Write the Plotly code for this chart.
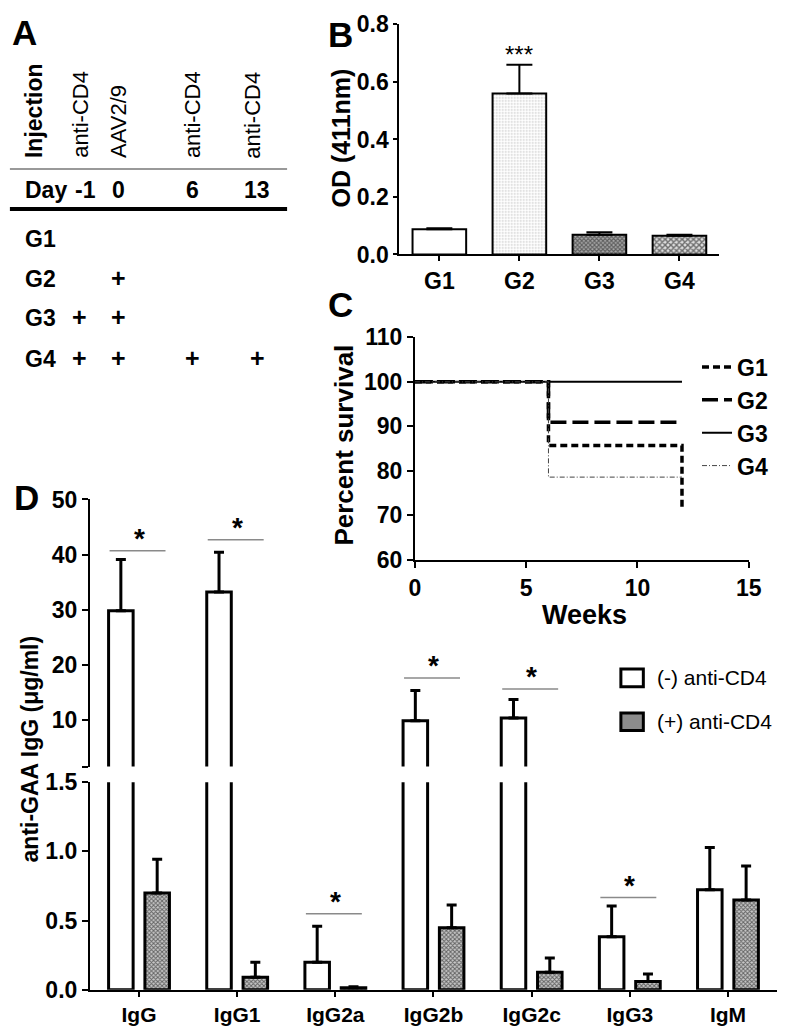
import plotly.graph_objects as go

W, H = 792, 1035
F = "Liberation Sans, Arial, Helvetica, sans-serif"

# ---------------- data ----------------
# Panel A: injection schedule
a_injections = ["anti-CD4", "AAV2/9", "anti-CD4", "anti-CD4"]
a_days = ["-1", "0", "6", "13"]
a_groups = ["G1", "G2", "G3", "G4"]
a_schedule = [[0, 0, 0, 0],
              [0, 1, 0, 0],
              [1, 1, 0, 0],
              [1, 1, 1, 1]]

# Panel B: OD (411nm)
b_groups = ["G1", "G2", "G3", "G4"]
b_od = [0.088, 0.560, 0.069, 0.065]
b_err = [0.003, 0.100, 0.008, 0.004]
b_sig = ["", "***", "", ""]

# Panel C: survival (weeks)
c_weeks = [0, 6, 12]
c_g1 = [100, 85.7, 71.4]
c_g2 = [100, 90.9, 90.9]
c_g3 = [100, 100, 100]
c_g4 = [100, 78.6, 78.6]

# Panel D: anti-GAA antibodies
d_classes = ["IgG", "IgG1", "IgG2a", "IgG2b", "IgG2c", "IgG3", "IgM"]
d_neg = [29.8, 33.2, 0.20, 9.8, 10.3, 0.383, 0.723]
d_neg_err = [9.3, 7.2, 0.26, 5.5, 3.4, 0.223, 0.305]
d_pos = [0.70, 0.09, 0.015, 0.449, 0.127, 0.061, 0.648]
d_pos_err = [0.244, 0.11, 0.007, 0.164, 0.103, 0.054, 0.246]
d_sig = [40.7, 42.7, 0.55, 17.6, 15.6, 0.667, None]
D_BREAK = 1.5


def X(px):
    return px / W


def Y(py):
    return 1 - py / H


fig = go.Figure()

# ---------------- Panel B ----------------
fig.add_trace(go.Bar(
    x=b_groups, y=b_od, width=0.67, xaxis="x", yaxis="y", showlegend=False,
    marker=dict(color="white", line=dict(color="black", width=2),
                pattern=dict(shape=["", ".", "x", "x"],
                             fgcolor=["#000", "#888", "#111", "#000"],
                             bgcolor=["white", "white", "#aaa", "#ddd"],
                             size=[4, 3, 3, 4], solidity=[0.3, 0.25, 0.6, 0.6])),
    error_y=dict(type="data", symmetric=False, array=b_err, arrayminus=[0] * 4,
                 color="black", thickness=2, width=13),
))
for g, v, e, s in zip(b_groups, b_od, b_err, b_sig):
    if s:
        fig.add_annotation(x=g, y=v + e, xref="x", yref="y", text=s, showarrow=False,
                           yanchor="middle", yshift=10,
                           font=dict(family=F, size=24, color="black"))

# ---------------- Panel C ----------------
c_styles = [
    ("G1", c_g1, dict(color="black", width=3.5, dash="7px,4px")),
    ("G2", c_g2, dict(color="black", width=3.5, dash="16px,6px")),
    ("G3", c_g3, dict(color="black", width=2)),
    ("G4", c_g4, dict(color="#444", width=1, dash="5px,2px,1px,2px")),
]
for name, yy, ln in c_styles:
    fig.add_trace(go.Scatter(x=c_weeks, y=yy, mode="lines", name=name, line_shape="hv",
                             line=ln, xaxis="x2", yaxis="y2", legend="legend"))

# ---------------- Panel D ----------------
for ax_x, ax_y in (("x3", "y3"), ("x4", "y4")):
    fig.add_trace(go.Bar(
        x=d_classes, y=d_neg, offset=-0.31, width=0.25, xaxis=ax_x, yaxis=ax_y,
        showlegend=False, name="(-) anti-CD4",
        marker=dict(color="white", line=dict(color="black", width=3)),
        error_y=dict(type="data", symmetric=False, array=d_neg_err,
                     arrayminus=[0] * len(d_neg), color="black", thickness=3, width=5),
    ))
    fig.add_trace(go.Bar(
        x=d_classes, y=d_pos, offset=0.06, width=0.25, xaxis=ax_x, yaxis=ax_y,
        showlegend=False, name="(+) anti-CD4",
        marker=dict(color="white", line=dict(color="black", width=3),
                    pattern=dict(shape="x", fgcolor="#000", bgcolor="#c8c8c8",
                                 size=3, solidity=0.55)),
        error_y=dict(type="data", symmetric=False, array=d_pos_err,
                     arrayminus=[0] * len(d_pos), color="black", thickness=3, width=5),
    ))

for i, s in enumerate(d_sig):
    if s is None:
        continue
    xr, yr = ("x4", "y4") if s > D_BREAK else ("x3", "y3")
    fig.add_shape(type="line", xref=xr, yref=yr, x0=i - 0.30, x1=i + 0.27, y0=s, y1=s,
                  line=dict(color="#8a8a8a", width=1.5))
    fig.add_annotation(x=i, y=s, xref=xr, yref=yr, text="*", showarrow=False,
                       yanchor="middle", yshift=12,
                       font=dict(family=F, size=28, color="black", weight="bold"))

# ---------------- axes ----------------
axcommon = dict(showline=True, linecolor="black", linewidth=2, ticks="outside",
                tickcolor="black", tickwidth=2, showgrid=False, zeroline=False,
                tickfont=dict(family=F, size=23, color="black", weight="bold"))

fig.update_layout(
    xaxis=dict(axcommon, domain=[X(403), X(731)], anchor="y", range=[-0.5, 3.5],
               ticklen=5, type="category"),
    yaxis=dict(axcommon, domain=[Y(247.7), Y(11.7)], anchor="x", range=[0, 0.8],
               tickvals=[0, 0.2, 0.4, 0.6, 0.8], tickformat=".1f", ticklen=4),
    xaxis2=dict(axcommon, domain=[X(419), X(761)], anchor="y2", range=[0, 15],
                tickvals=[0, 5, 10, 15], ticklen=6),
    yaxis2=dict(axcommon, domain=[Y(561), Y(332.7)], anchor="x2", range=[60, 110],
                tickvals=[60, 70, 80, 90, 100, 110], ticklen=6),
    xaxis3=dict(axcommon, domain=[X(86), X(790)], anchor="y3", range=[-0.5, 6.5],
                type="category", ticklen=5,
                tickfont=dict(family=F, size=21, color="black", weight="bold")),
    yaxis3=dict(axcommon, domain=[Y(1002), Y(789)], anchor="x3", range=[0, D_BREAK],
                tickvals=[0, 0.5, 1.0, 1.5], tickformat=".1f", ticklen=6),
    xaxis4=dict(domain=[X(86), X(790)], anchor="y4", range=[-0.5, 6.5],
                type="category", visible=False, matches="x3"),
    yaxis4=dict(axcommon, domain=[Y(773), Y(499)], anchor="x4", range=[D_BREAK, 50],
                tickvals=[D_BREAK, 10, 20, 30, 40, 50],
                ticktext=["", "10", "20", "30", "40", "50"], ticklen=6),
    legend=dict(x=X(708), y=Y(341), xanchor="left", yanchor="top",
                font=dict(family=F, size=23, color="black", weight="bold"),
                bgcolor="rgba(0,0,0,0)", tracegroupgap=0, itemwidth=30),
    width=W, height=H, margin=dict(l=0, r=0, t=0, b=0),
    plot_bgcolor="rgba(0,0,0,0)", paper_bgcolor="white", barmode="overlay",
    showlegend=True,
)

# ---------------- axis titles & panel letters ----------------
def ann(text, px, py, size, bold=True, angle=0, xanchor="center", yanchor="middle"):
    fig.add_annotation(x=X(px), y=Y(py), xref="paper", yref="paper", text=text,
                       showarrow=False, textangle=angle, xanchor=xanchor, yanchor=yanchor,
                       font=dict(family=F, size=size, color="black",
                                 weight="bold" if bold else "normal"))

ann("OD (411nm)", 343, 128, 25, angle=-90)
ann("Percent survival", 346, 443, 26, angle=-90)
ann("Weeks", 593, 618, 27)
ann("anti-GAA IgG (μg/ml)", 25, 755, 23, angle=-90)

ann("A", 19, 20, 35)
ann("B", 343, 22, 35)
ann("C", 343, 299, 35)
ann("D", 21, 497, 35)

# ---------------- Panel A table ----------------
a_head_x = [77, 115, 191, 253]
a_day_x = [81, 115, 191, 257]
a_plus_x = [75, 115, 191, 258]
a_row_y = [232, 273, 313, 355]

ann("Injection", 28, 151, 23, angle=-90, yanchor="bottom")
for txt, hx in zip(a_injections, a_head_x):
    ann(txt, hx, 151, 22, bold=False, angle=-90, yanchor="bottom")
ann("Day", 17, 182, 23, xanchor="left")
for d, dx in zip(a_days, a_day_x):
    ann(d, dx, 182, 23)
for g, gy, row in zip(a_groups, a_row_y, a_schedule):
    ann(g, 17, gy, 23, xanchor="left")
    for flag, px_ in zip(row, a_plus_x):
        if flag:
            ann("+", px_, gy - 1, 25)

fig.add_shape(type="line", xref="paper", yref="paper", x0=X(4), x1=X(288),
              y0=Y(160), y1=Y(160), line=dict(color="#777", width=1.5))
fig.add_shape(type="line", xref="paper", yref="paper", x0=X(4), x1=X(288),
              y0=Y(201), y1=Y(201), line=dict(color="black", width=4))

# ---------------- Panel D legend ----------------
fig.add_shape(type="rect", xref="paper", yref="paper", x0=X(630), x1=X(653),
              y0=Y(691), y1=Y(673), line=dict(color="black", width=3), fillcolor="white")
fig.add_shape(type="rect", xref="paper", yref="paper", x0=X(630), x1=X(653),
              y0=Y(736), y1=Y(718), line=dict(color="black", width=3), fillcolor="#8c8c8c")
ann("(-) anti-CD4", 665, 682, 21, bold=False, xanchor="left")
ann("(+) anti-CD4", 665, 727, 21, bold=False, xanchor="left")

fig.write_html("out.html", config={"displayModeBar": False},
               post_script="document.body.style.margin='0';document.body.style.overflow='hidden';")
